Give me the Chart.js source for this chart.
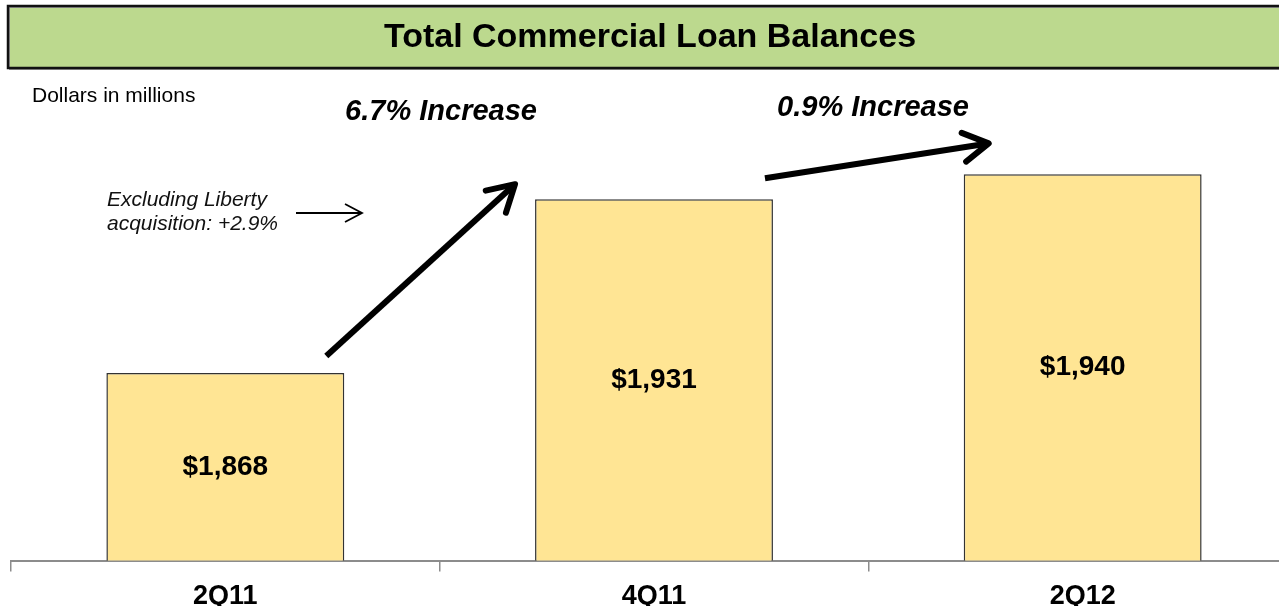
<!DOCTYPE html>
<html>
<head>
<meta charset="utf-8">
<title>Total Commercial Loan Balances</title>
<script src="https://cdn.jsdelivr.net/npm/chart.js@4/dist/chart.umd.min.js"></script>
<style>
  html, body { margin: 0; padding: 0; background: #fff; overflow: hidden; }
  #wrap { position: relative; width: 1279px; height: 606px; overflow: hidden; }
  #loanChart { position: absolute; left: 0; top: 0; }
</style>
</head>
<body>
<div id="wrap">
  <canvas id="loanChart" width="1320" height="640"></canvas>
</div>
<script>
// quarter-end balances, dollars in millions
const quarters = ['2Q11', '4Q11', '2Q12'];
const balances = [1868, 1931, 1940];
const growthNotes = ['6.7% Increase', '0.9% Increase'];
const libertyNote = ['Excluding Liberty', 'acquisition: +2.9%'];

const FONT = '"Liberation Sans", Arial, Helvetica, sans-serif';

function money(v) {
  return '$' + v.toLocaleString('en-US');
}

// thick black arrow with an open chevron head
function arrow(ctx, x1, y1, x2, y2, width, head) {
  const ang = Math.atan2(y2 - y1, x2 - x1);
  ctx.save();
  ctx.strokeStyle = '#000';
  ctx.lineWidth = width;
  ctx.lineCap = 'butt';
  ctx.beginPath();
  ctx.moveTo(x1, y1);
  ctx.lineTo(x2 - Math.cos(ang) * width * 0.4, y2 - Math.sin(ang) * width * 0.4);
  ctx.stroke();
  ctx.lineCap = 'round';
  ctx.lineJoin = 'round';
  ctx.beginPath();
  ctx.moveTo(x2 - head * Math.cos(ang - Math.PI / 6), y2 - head * Math.sin(ang - Math.PI / 6));
  ctx.lineTo(x2, y2);
  ctx.lineTo(x2 - head * Math.cos(ang + Math.PI / 6), y2 - head * Math.sin(ang + Math.PI / 6));
  ctx.stroke();
  ctx.restore();
}

const slideDecor = {
  id: 'slideDecor',
  beforeDraw(chart) {
    const ctx = chart.ctx;
    ctx.save();
    ctx.fillStyle = '#fff';
    ctx.fillRect(0, 0, chart.width, chart.height);

    // green title banner
    ctx.fillStyle = '#bcd98e';
    ctx.fillRect(8, 6, chart.width, 62);
    ctx.strokeStyle = '#999';
    ctx.lineWidth = 1;
    ctx.strokeRect(9.5, 7.5, chart.width, 62);
    ctx.strokeStyle = '#111';
    ctx.lineWidth = 2.5;
    ctx.strokeRect(8, 6, chart.width, 62);

    ctx.fillStyle = '#000';
    ctx.font = 'bold 34px ' + FONT;
    ctx.textAlign = 'center';
    ctx.textBaseline = 'middle';
    ctx.fillText('Total Commercial Loan Balances', 650, 38);

    ctx.font = '21px ' + FONT;
    ctx.textAlign = 'left';
    ctx.fillText('Dollars in millions', 32, 96);
    ctx.restore();
  },
  afterDatasetsDraw(chart) {
    const ctx = chart.ctx;
    const bars = chart.getDatasetMeta(0).data;
    const base = chart.scales.y.getPixelForValue(chart.scales.y.min);
    const edge = (b, side) => b.x + side * b.width / 2;

    ctx.save();
    // value labels in the middle of each bar
    ctx.fillStyle = '#000';
    ctx.font = 'bold 28px ' + FONT;
    ctx.textAlign = 'center';
    ctx.textBaseline = 'middle';
    bars.forEach((b, i) => {
      ctx.fillText(money(balances[i]), b.x, (b.y + base) / 2);
    });

    // growth arrows between bars
    arrow(ctx, edge(bars[0], 1) - 18, bars[0].y - 17, edge(bars[1], -1) - 20, bars[1].y - 15, 6, 30);
    arrow(ctx, edge(bars[1], 1) - 8, bars[1].y - 21, edge(bars[2], -1) + 25, bars[2].y - 31, 6, 29);

    ctx.font = 'italic bold 29px ' + FONT;
    ctx.fillText(growthNotes[0], 441, 112);
    ctx.fillText(growthNotes[1], 873, 108);

    // note on the organic growth
    ctx.font = 'italic 21px ' + FONT;
    ctx.textAlign = 'left';
    ctx.fillStyle = '#111';
    ctx.fillText(libertyNote[0], 107, 200);
    ctx.fillText(libertyNote[1], 107, 224);

    ctx.strokeStyle = '#000';
    ctx.lineWidth = 1.8;
    ctx.beginPath();
    ctx.moveTo(296, 213);
    ctx.lineTo(362, 213);
    ctx.moveTo(345, 204);
    ctx.lineTo(362, 213);
    ctx.lineTo(345, 222);
    ctx.stroke();
    ctx.restore();
  }
};

new Chart(document.getElementById('loanChart'), {
  type: 'bar',
  data: {
    labels: quarters,
    datasets: [{
      data: balances,
      backgroundColor: '#ffe594',
      borderColor: '#333',
      borderWidth: 1.5,
      categoryPercentage: 1,
      barPercentage: 0.555
    }]
  },
  options: {
    responsive: false,
    animation: false,
    layout: { padding: { left: 11, right: 23, top: 64, bottom: 18 } },
    plugins: {
      legend: { display: false },
      tooltip: { enabled: false }
    },
    scales: {
      x: {
        offset: true,
        border: { display: true, color: '#8c8c8c', width: 2 },
        grid: {
          offset: true,
          drawOnChartArea: false,
          drawTicks: true,
          tickLength: 11,
          color: '#8c8c8c',
          lineWidth: 1.5
        },
        ticks: {
          color: '#000',
          padding: 9,
          font: { family: FONT, size: 27, weight: 'bold' }
        }
      },
      y: {
        display: false,
        min: 1800,
        max: 1980
      }
    }
  },
  plugins: [slideDecor]
});
</script>
</body>
</html>
